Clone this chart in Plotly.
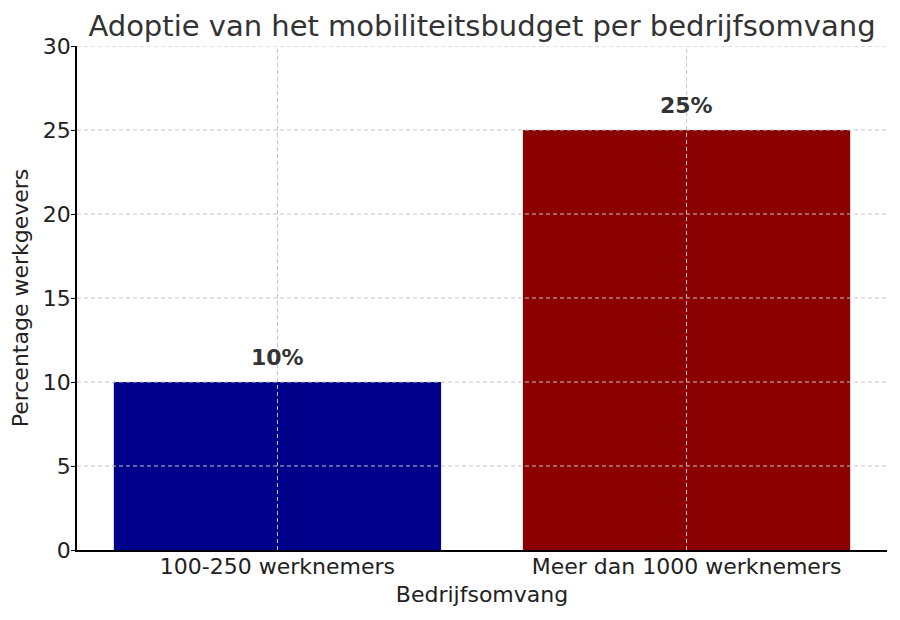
import plotly.graph_objects as go

# data
categories = ["100-250 werknemers", "Meer dan 1000 werknemers"]
percentages = [10, 25]
bar_colors = ["#00008B", "#8B0000"]
y_ticks = [0, 5, 10, 15, 20, 25, 30]

font = "DejaVu Sans"
grid_color = "#c4c4c4"
label_offset = 0.6  # value labels sit a bit above the bar top

fig = go.Figure(go.Bar(
    x=list(range(len(categories))),
    y=percentages,
    width=0.8,
    marker=dict(color=bar_colors, line=dict(width=0)),
    hoverinfo="skip",
))

# value labels above the bars
for i, v in enumerate(percentages):
    fig.add_annotation(x=i, y=v + label_offset, text="<b>%d%%</b>" % v, showarrow=False,
                       yanchor="bottom", xanchor="center",
                       font=dict(family=font, size=22, color="#333333"))

# gridlines drawn above the bars, like matplotlib's dashed grid
for t in y_ticks[1:]:
    fig.add_shape(type="line", xref="paper", yref="y", x0=0, x1=1, y0=t, y1=t,
                  line=dict(color=grid_color, width=1, dash="4px,3px"), layer="above")
for i in range(len(categories)):
    fig.add_shape(type="line", xref="x", yref="paper", x0=i, x1=i, y0=0, y1=1,
                  line=dict(color=grid_color, width=1, dash="4px,3px"), layer="above")

# page body adds an 8px offset, margins compensate for that
fig.update_layout(
    width=900, height=620,
    margin=dict(l=69, r=21, t=38, b=78),
    paper_bgcolor="white", plot_bgcolor="white",
    showlegend=False,
    title=dict(text="Adoptie van het mobiliteitsbudget per bedrijfsomvang",
               x=0.5, xref="paper", xanchor="center", y=0.971, yanchor="middle",
               font=dict(family=font, size=29, color="#333333")),
    xaxis=dict(range=[-0.49, 1.49], tickvals=list(range(len(categories))), ticktext=categories,
               showgrid=False, zeroline=False, showline=True, linecolor="black", linewidth=1.5,
               ticks="", ticklabelstandoff=-4, automargin=False,
               tickfont=dict(family=font, size=22, color="#222222"),
               title=dict(text="Bedrijfsomvang", standoff=8,
                          font=dict(family=font, size=22, color="#222222"))),
    yaxis=dict(range=[0, 30], tickvals=y_ticks, showgrid=False, zeroline=False,
               showline=True, linecolor="black", linewidth=1.5, automargin=False,
               ticks="outside", ticklen=4, tickwidth=1.2, tickcolor="black",
               ticklabelstandoff=-4,
               tickfont=dict(family=font, size=22, color="#222222"),
               title=dict(text="Percentage werkgevers", standoff=10,
                          font=dict(family=font, size=22, color="#222222"))),
)

fig.write_html("out.html")
